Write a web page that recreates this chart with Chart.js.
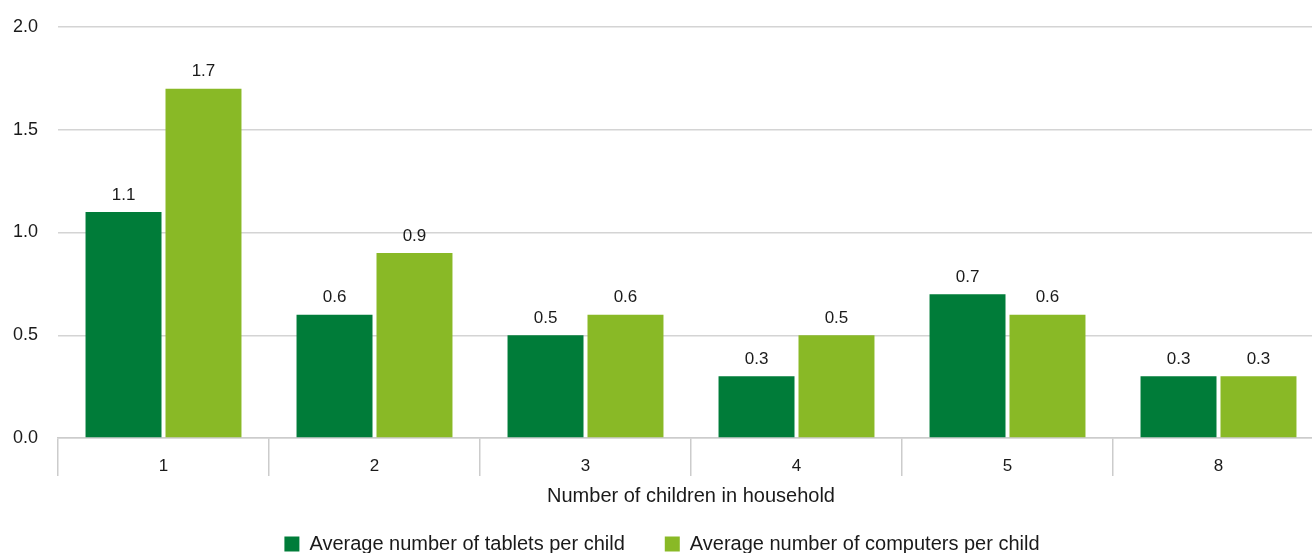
<!DOCTYPE html>
<html>
<head>
<meta charset="utf-8">
<script src="https://cdn.jsdelivr.net/npm/chart.js@4.4.1/dist/chart.umd.min.js"></script>
<style>
  html, body { margin: 0; padding: 0; background: #fff; overflow: hidden; }
  #wrap { width: 1324px; height: 564px; }
</style>
</head>
<body>
<div id="wrap"><canvas id="chartNinos"></canvas></div>
<script>
// Datos del gráfico
const CATEGORIAS = ["1", "2", "3", "4", "5", "8"];
const TABLETS = [1.1, 0.6, 0.5, 0.3, 0.7, 0.3];
const COMPUTADORAS = [1.7, 0.9, 0.6, 0.5, 0.6, 0.3];
const TICKS_Y = [0, 0.5, 1.0, 1.5, 2.0];

const VERDE_OSCURO = "#007c39";
const VERDE_CLARO = "#89b926";
const TEXTO = "#1a1a1a";
const FUENTE = "'Liberation Sans', Arial, sans-serif";

Chart.defaults.font.family = FUENTE;
Chart.defaults.color = TEXTO;

// Etiquetas de valor arriba de cada barra
const etiquetasValor = {
  id: "etiquetasValor",
  afterDatasetsDraw(chart) {
    const { ctx } = chart;
    ctx.save();
    ctx.font = "17px " + FUENTE;
    ctx.fillStyle = TEXTO;
    ctx.textAlign = "center";
    ctx.textBaseline = "middle";
    chart.data.datasets.forEach((ds, i) => {
      chart.getDatasetMeta(i).data.forEach((bar, j) => {
        ctx.fillText(ds.data[j].toFixed(1), bar.x, bar.y - 17);
      });
    });
    ctx.restore();
  },
};

const ctx = document.getElementById("chartNinos").getContext("2d");

new Chart(ctx, {
  type: "bar",
  data: {
    labels: CATEGORIAS,
    datasets: [
      {
        label: "Average number of tablets per child",
        data: TABLETS,
        backgroundColor: VERDE_OSCURO,
      },
      {
        label: "Average number of computers per child",
        data: COMPUTADORAS,
        backgroundColor: VERDE_CLARO,
      },
    ],
  },
  plugins: [etiquetasValor],
  options: {
    responsive: true,
    maintainAspectRatio: false,
    animation: false,
    layout: { padding: { top: 27, left: 0, right: 0, bottom: 0 } },
    datasets: {
      bar: { categoryPercentage: 0.758, barPercentage: 0.95 },
    },
    plugins: {
      tooltip: { enabled: false },
      legend: {
        position: "bottom",
        labels: {
          boxWidth: 15,
          boxHeight: 15,
          padding: 40,
          color: TEXTO,
          font: { size: 20 },
        },
      },
    },
    scales: {
      x: {
        grid: {
          offset: true,
          drawOnChartArea: false,
          tickLength: 38,
          color: "#cccccc",
          lineWidth: 1.5,
        },
        border: { color: "#cccccc", width: 1.5 },
        ticks: { padding: -20, font: { size: 17 }, color: TEXTO },
        title: {
          display: true,
          text: "Number of children in household",
          font: { size: 20 },
          color: TEXTO,
          padding: { top: 0, bottom: -14 },
        },
        afterFit(axis) {
          axis.height = 56;
        },
      },
      y: {
        min: 0,
        max: 2,
        afterBuildTicks(axis) {
          axis.ticks = TICKS_Y.map((v) => ({ value: v }));
        },
        afterFit(axis) {
          axis.width = 58;
          axis.paddingTop = 0;
          axis.paddingBottom = 0;
        },
        grid: { color: "#d4d4d4", lineWidth: 1.5, drawTicks: false },
        border: { display: false },
        ticks: {
          padding: 20,
          font: { size: 18 },
          color: TEXTO,
          callback: (v) => Number(v).toFixed(1),
        },
      },
    },
  },
});
</script>
</body>
</html>
